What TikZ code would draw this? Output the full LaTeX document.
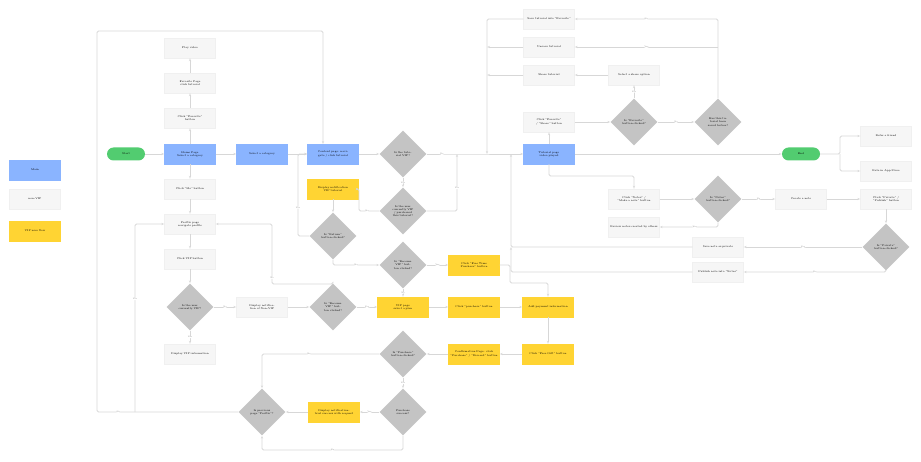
\documentclass[tikz,border=0pt]{standalone}
\usetikzlibrary{shapes.geometric,arrows.meta}
\definecolor{mainblue}{RGB}{138,180,255}
\definecolor{vipyellow}{RGB}{255,212,51}
\definecolor{startgreen}{RGB}{82,204,112}
\definecolor{decgray}{RGB}{196,196,196}
\definecolor{linegray}{RGB}{215,215,215}
\newcommand\tinyfont{\fontsize{2.6}{3.2}\selectfont}
\tikzset{
  proc/.style={draw=gray!12, fill=gray!7, minimum width=51pt, minimum height=20pt, inner sep=1pt, align=center, font=\tinyfont, text width=48pt},
  main/.style={proc, fill=mainblue, draw=mainblue},
  vip/.style={proc, fill=vipyellow, draw=vipyellow},
  term/.style={rounded corners=6.5pt, fill=startgreen, minimum width=38pt, minimum height=13pt, font=\tinyfont},
  dec/.style={diamond, fill=decgray, minimum width=47pt, minimum height=47pt, inner sep=0pt, align=center, font=\tinyfont, text width=24pt},
  flow/.style={draw=linegray, line width=0.8pt, -{Stealth[length=3pt,open]}, rounded corners=1.5pt},
  lab/.style={font=\fontsize{2}{2}\selectfont, text=gray, fill=white, inner sep=0.3pt}
}
\begin{document}
\begin{tikzpicture}[x=1pt,y=-1pt]
  \useasboundingbox (0,0) rectangle (921,462);

  % legend
  \node[main] (lmain) at (35,170) {Main};
  \node[proc] (lnon) at (35,199) {non-VIP};
  \node[vip] (lvip) at (35,231) {VIP user flow};

  % main row
  \node[term] (start) at (126,154) {Start};
  \node[main] (home) at (190,154) {Home Page\\Select a category};
  \node[main] (cat) at (262,154) {Select a category};
  \node[main] (content) at (333,154) {Content page: navigate / click tutorial};
  \coordinate (contenttop) at (323,144);
  \node[dec] (isvip) at (403,154) {Is the tutorial VIP?};
  \node[dec] (haspaid) at (403,211) {Is the user currently VIP / purchased this tutorial?};
  \node[vip] (notevip) at (333,189) {Display notification\\VIP tutorial};
  \node[dec] (isret) at (333,236) {Is "Return" button clicked?};

  % favorite column
  \node[proc] (clickfav) at (190,118) {Click "Favorite"\\button};
  \node[proc] (favpage) at (190,83) {Favorite Page\\click tutorial};
  \node[proc] (play) at (190,48) {Play video};

  % profile column
  \node[proc] (clickme) at (190,189) {Click "Me" button};
  \node[proc] (profile) at (190,224) {Profile page\\navigate profile};
  \node[proc] (clickvip) at (190,259) {Click VIP button};
  \node[dec] (uservip) at (190,307) {Is the user currently VIP?};
  \node[proc] (vipinfo) at (190,354) {Display VIP information};
  \node[proc] (nonvip) at (262,307) {Display notification of Non-VIP};
  \node[dec] (become2) at (333,307) {Is "Become VIP" button clicked?};

  % VIP purchase
  \node[dec] (become1) at (403,265) {Is "Become VIP" button clicked?};
  \node[vip] (vippage) at (403,307) {VIP page\\select a plan};
  \node[vip] (freetime) at (474,265) {Click "Free Time Purchase" button};
  \node[vip] (purchase) at (474,307) {Click "purchase" button};
  \node[vip] (payment) at (548,307) {Add payment information};
  \node[vip] (freetrial) at (548,354) {Click "Free Gift" button};
  \node[vip] (confirm) at (474,354) {Confirmation Page: click "Purchase" / "Discard" button};
  \node[dec] (ispurch) at (403,354) {Is "Purchase" button clicked?};
  \node[dec] (success) at (403,412) {Purchase success?};
  \node[vip] (trialok) at (334,412) {Display notification: trial success with request};
  \node[dec] (prevpage) at (262,412) {Is previous page "Profile"?};

  % tutorial page
  \node[main] (tutorial) at (549,154) {Tutorial page\\video played};
  \node[proc] (save) at (549,19) {Save tutorial into "Favorite"};
  \node[proc] (unsave) at (549,47) {Unsave tutorial};
  \node[proc] (share) at (549,75) {Share tutorial};
  \node[proc] (shareopt) at (634,75) {Select a share option};
  \node[proc] (clickshare) at (549,122) {Click "Favorite" / "Share" button};
  \node[dec] (isfav) at (634,122) {Is "Favorite" button clicked?};
  \node[dec] (saved) at (718,122) {Has this tutorial been saved before?};
  \node[term] (end) at (801,154) {End};
  \node[proc] (refer) at (886,136) {Refer a friend};
  \node[proc] (rate) at (886,171) {Rate in App Store};
  \node[proc] (clicknote) at (634,199) {Click "Notes" / "Make a note" button};
  \node[dec] (isnote) at (718,199) {Is "Notes" button clicked?};
  \node[proc] (review) at (634,227) {Review notes created by others};
  \node[proc] (create) at (801,199) {Create a note};
  \node[proc] (clickpriv) at (886,199) {Click "Private" / "Publish" button};
  \node[dec] (ispriv) at (886,247) {Is "Private" button clicked?};
  \node[proc] (savepriv) at (718,247) {Save note as private};
  \node[proc] (publish) at (718,272) {Publish note into "Notes"};

  % connectors: left part
  \draw[flow] (start) -- (home);
  \draw[flow] (home) -- (cat);
  \draw[flow] (cat) -- (content);
  \draw[flow] (content) -- (isvip);
  \draw[flow] (home) -- (clickfav);
  \draw[flow] (clickfav) -- (favpage);
  \draw[flow] (favpage) -- (play);
  \draw[flow] (home) -- (clickme);
  \draw[flow] (clickme) -- (profile);
  \draw[flow] (profile) -- (clickvip);
  \draw[flow] (clickvip) -- (uservip);
  \draw[flow] (uservip) -- node[lab]{Yes} (vipinfo);
  \draw[flow] (uservip) -- node[lab]{No} (nonvip);
  \draw[flow] (nonvip) -- (become2);
  \draw[flow] (become2) -- node[lab]{Yes} (vippage);
  \draw[flow] (become2.north) |- (272,284) |- (profile.east) node[lab, pos=0.05]{No};
  \draw[flow] (isvip) -- node[lab]{Yes} (haspaid);
  \draw[flow] (haspaid.west) -| (359,189) node[lab, pos=0.3]{No} -- (notevip.east);
  \draw[flow] (notevip) -- (isret);
  \draw[flow] (isret.west) -| (298,165) node[lab, pos=0.7]{Yes} |- (content.west);
  \draw[flow] (isret.south) |- node[lab, pos=0.75]{No} (become1.west);
  \draw[flow] (become1) -- node[lab]{No} (vippage);
  \draw[flow] (become1) -- node[lab]{Yes} (freetime);
  \draw[flow] (vippage) -- (purchase);
  \draw[flow] (purchase) -- (payment);
  \draw[flow] (freetime.east) -| (510,283) -| (payment.north);
  \draw[flow] (payment) -- (freetrial);
  \draw[flow] (freetrial) -- (confirm);
  \draw[flow] (confirm) -- (ispurch);
  \draw[flow] (ispurch.west) -| node[lab, pos=0.3]{No} (prevpage.north);
  \draw[flow] (ispurch) -- node[lab]{Yes} (success);
  \draw[flow] (success) -- node[lab]{Yes} (trialok);
  \draw[flow] (trialok) -- (prevpage);
  \draw[flow] (success.south) |- (262,450) node[lab, pos=0.75]{No} -- (prevpage.south);
  \draw[flow] (prevpage.west) -- (97,412) node[lab, pos=0.85]{No} |- (323,31) -- (contenttop);
  \draw[flow] (135,412) |- node[lab, pos=0.3]{Yes} (profile.west);

  % connectors: tutorial
  \draw[flow] (isvip.east) -- node[lab]{No} (457,154) -- (tutorial.west);
  \draw[flow] (haspaid.east) -| node[lab, pos=0.7]{Yes} (457,154);
  \draw[flow] (save.west) -| (487,154);
  \draw[flow] (unsave.west) -- (487,47);
  \draw[flow] (share.west) -- (487,75);
  \draw[flow] (savepriv.west) -| (511,154);
  \draw[flow] (publish.west) -| (511,247);
  \draw[flow] (tutorial) -- (clickshare);
  \draw[flow] (clickshare) -- (isfav);
  \draw[flow] (isfav) -- node[lab]{Yes} (shareopt);
  \draw[flow] (shareopt) -- (share);
  \draw[flow] (isfav) -- node[lab]{No} (saved);
  \draw[flow] (saved.north) |- node[lab, pos=0.75]{No} (save.east);
  \draw[flow] (718,47) -- node[lab]{Yes} (unsave.east);
  \draw[flow] (tutorial) -- (end);
  \draw[flow] (end.east) -- (840,154) |- (refer.west);
  \draw[flow] (840,154) |- (rate.west);
  \draw[flow] (tutorial.south) |- (634,176) -- (clicknote.north);
  \draw[flow] (clicknote) -- (isnote);
  \draw[flow] (isnote) -- node[lab]{No} (create);
  \draw[flow] (isnote.south) |- node[lab, pos=0.7]{Yes} (review.east);
  \draw[flow] (create) -- (clickpriv);
  \draw[flow] (clickpriv) -- (ispriv);
  \draw[flow] (ispriv) -- node[lab]{Yes} (savepriv);
  \draw[flow] (ispriv.south) |- node[lab, pos=0.75]{No} (publish.east);
\end{tikzpicture}
\end{document}
